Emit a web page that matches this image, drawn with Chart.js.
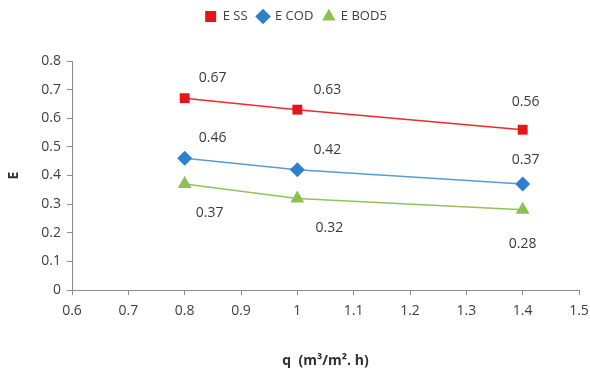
<!DOCTYPE html>
<html>
<head>
<meta charset="utf-8">
<script src="https://cdn.jsdelivr.net/npm/chart.js@4/dist/chart.umd.min.js"></script>
<style>
  html, body { margin: 0; padding: 0; background: #fff; }
  #wrap { width: 590px; height: 377px; }
</style>
</head>
<body>
<div id="wrap"><canvas id="lineChart" width="590" height="377"></canvas></div>
<script>
// data
var qValues = [0.8, 1, 1.4];
var eSS = [0.67, 0.63, 0.56];
var eCOD = [0.46, 0.42, 0.37];
var eBOD5 = [0.37, 0.32, 0.28];
var xTicks = [0.6, 0.7, 0.8, 0.9, 1, 1.1, 1.2, 1.3, 1.4, 1.5];
var yTicks = [0, 0.1, 0.2, 0.3, 0.4, 0.5, 0.6, 0.7, 0.8];

function pts(ys) {
  return ys.map(function (y, i) { return { x: qValues[i], y: y }; });
}

// label offsets per series / point (dx, dy from the marker)
var labelOffsets = [
  [[28, -20], [30, -20], [3, -28]],
  [[28, -20], [30, -20], [3, -24]],
  [[25, 29], [32, 30], [0, 34]]
];

var valueLabels = {
  id: 'valueLabels',
  afterDatasetsDraw: function (chart) {
    var ctx = chart.ctx;
    ctx.save();
    ctx.font = '14px "Open Sans", sans-serif';
    ctx.fillStyle = '#3a3a3a';
    ctx.textAlign = 'center';
    ctx.textBaseline = 'middle';
    chart.data.datasets.forEach(function (ds, di) {
      chart.getDatasetMeta(di).data.forEach(function (p, i) {
        var off = labelOffsets[di][i];
        ctx.fillText(ds.data[i].y.toFixed(2), p.x + off[0], p.y + off[1]);
      });
    });
    ctx.restore();
  }
};

// extra room under the legend
var legendGap = {
  id: 'legendGap',
  afterInit: function (chart) {
    var fit = chart.legend.fit;
    chart.legend.fit = function () {
      fit.call(this);
      this.height += 28;
    };
  }
};

var axisColor = '#8c8c8c';
var tickFont = { family: '"Open Sans", sans-serif', size: 14 };

var ctxL = document.getElementById('lineChart').getContext('2d');
var myLineChart = new Chart(ctxL, {
  type: 'line',
  data: {
    datasets: [
      {
        label: 'E SS',
        data: pts(eSS),
        borderColor: '#ee2a2a',
        backgroundColor: '#e8141b',
        pointStyle: 'rect',
        pointRadius: 7,
        pointBorderWidth: 0,
        borderWidth: 1.5
      },
      {
        label: 'E COD',
        data: pts(eCOD),
        borderColor: '#5b9bd5',
        backgroundColor: '#2f80cc',
        pointStyle: 'rectRot',
        pointRadius: 7.5,
        pointBorderWidth: 0,
        borderWidth: 1.5
      },
      {
        label: 'E BOD5',
        data: pts(eBOD5),
        borderColor: '#92c35a',
        backgroundColor: '#8dbf55',
        pointStyle: 'triangle',
        pointRadius: 8,
        pointBorderWidth: 0,
        borderWidth: 1.5
      }
    ]
  },
  options: {
    responsive: false,
    animation: false,
    layout: { padding: { top: 0, right: 0, left: 2, bottom: 4 } },
    plugins: {
      legend: {
        labels: {
          usePointStyle: true,
          boxWidth: 11,
          boxHeight: 11,
          padding: 10,
          color: '#404040',
          font: { family: '"Open Sans", sans-serif', size: 13 }
        }
      },
      tooltip: { enabled: false }
    },
    scales: {
      x: {
        type: 'linear',
        min: 0.6,
        max: 1.5,
        afterBuildTicks: function (s) { s.ticks = xTicks.map(function (v) { return { value: v }; }); },
        afterFit: function (s) { s.height = 83; s.paddingRight = 11; },
        ticks: {
          color: '#404040',
          font: tickFont,
          padding: 8,
          callback: function (v) { return String(+v.toFixed(1)); }
        },
        grid: { drawOnChartArea: false, color: axisColor, tickLength: 5 },
        border: { color: axisColor },
        title: {
          display: true,
          text: 'q  (m³/m². h)',
          color: '#303030',
          font: { family: '"Open Sans", sans-serif', size: 14, weight: 'bold' },
          padding: { top: 14 }
        }
      },
      y: {
        min: 0,
        max: 0.8,
        afterBuildTicks: function (s) { s.ticks = yTicks.map(function (v) { return { value: v }; }); },
        afterFit: function (s) { s.width = 70; },
        ticks: {
          color: '#404040',
          font: tickFont,
          padding: 6,
          callback: function (v) { return String(+v.toFixed(1)); }
        },
        grid: { drawOnChartArea: false, color: axisColor, tickLength: 5 },
        border: { color: axisColor },
        title: {
          display: true,
          text: 'E',
          color: '#303030',
          font: { family: '"Open Sans", sans-serif', size: 14, weight: 'bold' },
          padding: { bottom: 10 }
        }
      }
    }
  },
  plugins: [valueLabels, legendGap]
});
</script>
</body>
</html>
